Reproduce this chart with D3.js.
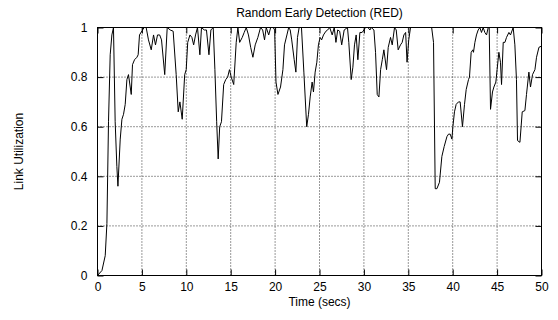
<!DOCTYPE html>
<html>
<head>
<meta charset="utf-8">
<script src="https://cdn.jsdelivr.net/npm/d3@7/dist/d3.min.js"></script>
<style>
  html, body { margin: 0; padding: 0; background: #fff; }
  svg { display: block; }
  text { font-family: "Liberation Sans", Arial, Helvetica, sans-serif; fill: #000; }
</style>
</head>
<body>
<svg id="chart" width="558" height="320"></svg>
<script>
// Link utilization over time under RED queue management
const times = [
  0, 0.5, 0.87, 1.06, 1.24, 1.43, 1.62, 1.8, 1.99, 2.18, 2.3, 2.56, 2.75, 2.93, 3.12, 3.31, 3.49, 3.8, 3.94, 4.17,
  4.44, 4.58, 4.73, 5.07, 5.26, 5.48, 5.74, 6.05, 6.31, 6.53, 6.76, 7.0, 7.21, 7.57, 7.85, 8.19, 8.52, 8.86, 9.09, 9.28,
  9.54, 9.82, 9.99, 10.16, 10.41, 10.63, 10.83, 11.04, 11.26, 11.53, 11.71, 12.02, 12.27, 12.55, 12.77, 13.03, 13.22, 13.42, 13.59, 13.76,
  13.96, 14.21, 14.44, 14.66, 14.86, 15.06, 15.34, 15.62, 15.81, 16.01, 16.3, 16.52, 16.75, 17.0, 17.25, 17.5, 17.76, 18.06, 18.36, 18.6,
  18.81, 19.0, 19.28, 19.5, 19.78, 19.95, 20.1, 20.32, 20.61, 20.88, 21.06, 21.33, 21.53, 21.7, 21.87, 22.15, 22.34, 22.52, 22.71, 22.97,
  23.24, 23.56, 23.76, 23.95, 24.17, 24.32, 24.51, 24.7, 24.88, 25.07, 25.24, 25.45, 25.72, 25.92, 26.15, 26.43, 26.66, 26.85, 27.05, 27.27,
  27.5, 27.78, 28.15, 28.3, 28.57, 28.76, 28.94, 29.13, 29.32, 29.55, 29.8, 30.0, 30.18, 30.45, 30.68, 30.83, 31.13, 31.31, 31.5, 31.69,
  31.88, 32.07, 32.25, 32.55, 32.74, 33.0, 33.19, 33.45, 33.64, 33.86, 34.12, 34.31, 34.5, 34.7, 34.86, 35.05, 35.25, 35.44, 37.63, 37.84,
  38.03, 38.22, 38.51, 38.78, 39.04, 39.35, 39.53, 39.72, 39.91, 40.02, 40.2, 40.39, 40.65, 40.84, 41.1, 41.33, 41.52, 41.78, 41.89, 42.08,
  42.27, 42.34, 42.5, 42.68, 42.87, 43.06, 43.24, 43.43, 43.62, 43.81, 44.0, 44.11, 44.26, 44.48, 44.64, 44.86, 45.0, 45.2, 45.38, 45.5,
  45.69, 45.88, 46.06, 46.33, 46.51, 46.81, 47.0, 47.18, 47.3, 47.57, 47.83, 48.13, 48.31, 48.58, 48.76, 48.99, 49.26, 49.44, 49.71, 50.0
];
const utilization = [
  0, 0.02, 0.08, 0.21, 0.62, 0.89, 0.97, 1.0, 0.62, 0.44, 0.36, 0.55, 0.63, 0.65, 0.69, 0.79, 0.81, 0.73, 0.85, 0.87,
  0.88, 0.89, 0.97, 0.99, 1.0, 1.0, 0.95, 0.91, 0.97, 0.93, 0.97, 0.97, 0.95, 0.81, 1.0, 0.99, 0.985, 0.81, 0.66, 0.70,
  0.63, 0.81, 0.83, 0.94, 0.97, 0.96, 0.93, 0.97, 1.0, 0.89, 1.0, 0.99, 0.99, 0.89, 0.99, 1.0, 0.83, 0.62, 0.47, 0.60,
  0.62, 0.77, 0.79, 0.80, 0.83, 0.80, 0.77, 0.94, 1.0, 0.94, 0.96, 0.98, 1.0, 0.97, 0.92, 0.88, 0.93, 0.96, 1.0, 0.99,
  0.95, 1.0, 0.97, 1.0, 1.0, 0.99, 0.78, 0.73, 0.76, 0.83, 0.93, 0.97, 1.0, 0.99, 0.95, 0.87, 0.82, 0.96, 1.0, 1.0,
  0.82, 0.60, 0.65, 0.72, 0.78, 0.74, 0.82, 0.86, 0.93, 0.96, 0.95, 0.97, 0.985, 0.99, 1.0, 0.97, 1.0, 0.94, 0.99, 0.985,
  0.93, 0.99, 1.0, 0.94, 0.79, 0.84, 0.93, 0.97, 0.87, 0.98, 0.98, 0.99, 1.0, 1.0, 0.99, 1.0, 0.99, 0.90, 0.73, 0.72,
  0.83, 0.87, 0.91, 0.83, 0.92, 0.96, 0.93, 1.0, 0.99, 0.91, 0.93, 0.94, 0.97, 0.98, 0.86, 0.95, 1.0, 1.0, 1.0, 0.94,
  0.35, 0.35, 0.376, 0.48, 0.52, 0.56, 0.57, 0.57, 0.55, 0.60, 0.66, 0.69, 0.70, 0.70, 0.60, 0.69, 0.75, 0.79, 0.80, 0.90,
  0.91, 0.90, 0.94, 0.97, 0.99, 1.0, 0.98, 1.0, 0.98, 0.97, 1.0, 1.0, 0.67, 0.74, 0.76, 0.78, 0.83, 0.90, 0.86, 0.77,
  0.94, 0.94, 0.96, 0.98, 0.97, 1.0, 0.93, 0.79, 0.544, 0.537, 0.66, 0.665, 0.73, 0.82, 0.76, 0.81, 0.83, 0.88, 0.92, 0.925
];
const xTicks = [0, 5, 10, 15, 20, 25, 30, 35, 40, 45, 50];
const yTicks = [0, 0.2, 0.4, 0.6, 0.8, 1];
const yTickLabels = ["0", "0.2", "0.4", "0.6", "0.8", "1"];

const svg = d3.select("#chart");
const margin = { left: 97.5, right: 16.5, top: 27.5, bottom: 44.5 };
const W = 558, H = 320;
const x0 = margin.left, x1 = W - margin.right;
const y0 = H - margin.bottom, y1 = margin.top;

const x = d3.scaleLinear().domain([0, 50]).range([x0, x1]);
const y = d3.scaleLinear().domain([0, 1]).range([y0, y1]);

const tickLen = 6;

// dotted grid lines
const grid = svg.append("g");
grid.selectAll("line.gy").data(yTicks.filter(d => d > 0 && d < 1)).enter().append("line")
  .attr("x1", x0).attr("x2", x1)
  .attr("y1", d => y(d)).attr("y2", d => y(d))
  .attr("stroke", "#333").attr("stroke-width", 1).attr("stroke-dasharray", "1,2");
grid.selectAll("line.gx").data(xTicks.filter(d => d > 0 && d < 50)).enter().append("line")
  .attr("y1", y0).attr("y2", y1)
  .attr("x1", d => x(d)).attr("x2", d => x(d))
  .attr("stroke", "#333").attr("stroke-width", 1).attr("stroke-dasharray", "1,2");

// axes with inward, mirrored ticks
const fmtY = d => yTickLabels[yTicks.indexOf(d)];
const axisLeft = d3.axisLeft(y).tickValues(yTicks).tickFormat(fmtY).tickSizeInner(-tickLen).tickSizeOuter(0).tickPadding(10);
const axisRight = d3.axisRight(y).tickValues(yTicks).tickFormat("").tickSizeInner(-tickLen).tickSizeOuter(0);
const axisBottom = d3.axisBottom(x).tickValues(xTicks).tickFormat(d3.format("d")).tickSizeInner(-tickLen).tickSizeOuter(0).tickPadding(7);
const axisTop = d3.axisTop(x).tickValues(xTicks).tickFormat("").tickSizeInner(-tickLen).tickSizeOuter(0);

function styleAxis(g) {
  g.select(".domain").remove();
  g.selectAll(".tick line").attr("stroke", "#000");
  g.selectAll(".tick text").style("font-size", "12px").attr("fill", "#000")
    .style("font-family", '"Liberation Sans", Arial, Helvetica, sans-serif');
}
svg.append("g").attr("transform", `translate(${x0},0)`).call(axisLeft).call(styleAxis);
svg.append("g").attr("transform", `translate(${x1},0)`).call(axisRight).call(styleAxis);
svg.append("g").attr("transform", `translate(0,${y0})`).call(axisBottom).call(styleAxis);
svg.append("g").attr("transform", `translate(0,${y1})`).call(axisTop).call(styleAxis);

// the utilization trace
const pts = times.map((t, i) => [t, utilization[i]]);
const line = d3.line().x(d => x(d[0])).y(d => y(d[1]));
svg.append("path").datum(pts)
  .attr("d", line)
  .attr("fill", "none").attr("stroke", "#000").attr("stroke-width", 1)
  .attr("stroke-linejoin", "round");

// plot frame
svg.append("rect")
  .attr("x", x0).attr("y", y1).attr("width", x1 - x0).attr("height", y0 - y1)
  .attr("fill", "none").attr("stroke", "#000").attr("stroke-width", 1);

// titles
svg.append("text").attr("x", (x0 + x1) / 2).attr("y", 17)
  .attr("text-anchor", "middle").style("font-size", "12px")
  .text("Random Early Detection (RED)");
svg.append("text").attr("x", (x0 + x1) / 2).attr("y", 305.5)
  .attr("text-anchor", "middle").style("font-size", "12px")
  .text("Time (secs)");
svg.append("text").attr("transform", `translate(23,${(y0 + y1) / 2}) rotate(-90)`)
  .attr("text-anchor", "middle").style("font-size", "12px")
  .text("Link Utilization");
</script>
</body>
</html>
